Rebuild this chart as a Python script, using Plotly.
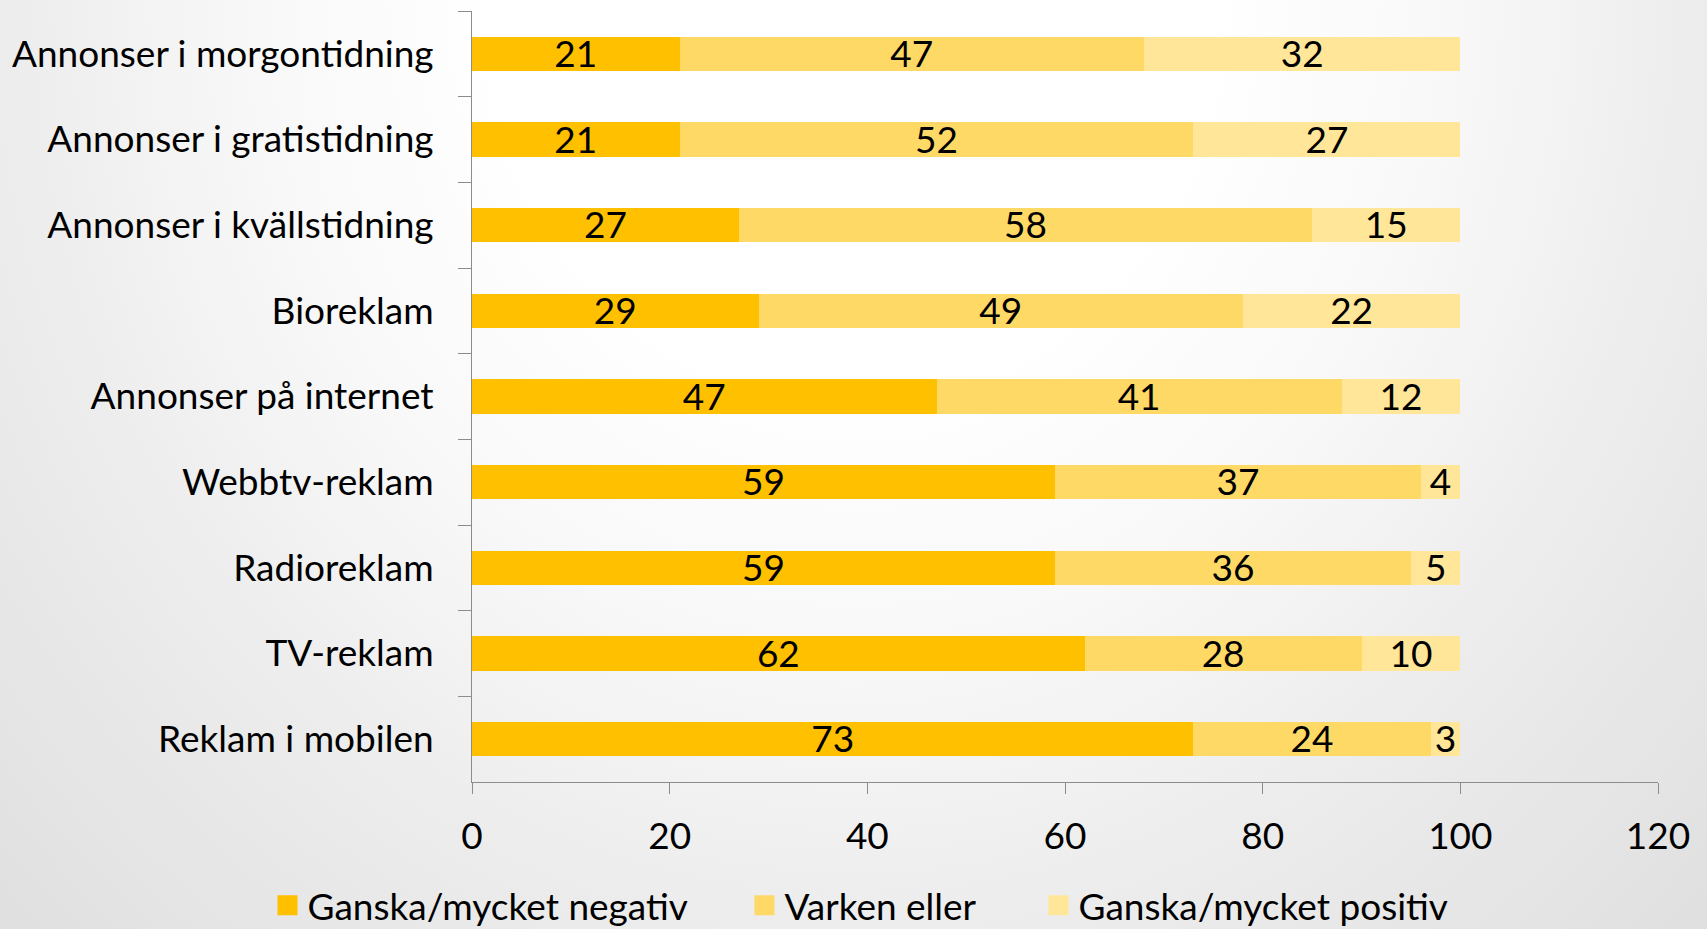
import plotly.graph_objects as go

categories = ["Annonser i morgontidning", "Annonser i gratistidning", "Annonser i kvällstidning",
              "Bioreklam", "Annonser på internet", "Webbtv-reklam", "Radioreklam",
              "TV-reklam", "Reklam i mobilen"]
negativ = [21, 21, 27, 29, 47, 59, 59, 62, 73]
varken = [47, 52, 58, 49, 41, 37, 36, 28, 24]
positiv = [32, 27, 15, 22, 12, 4, 5, 10, 3]
series_names = ["Ganska/mycket negativ", "Varken eller", "Ganska/mycket positiv"]
colors = ["#FFC000", "#FFD966", "#FFE699"]
x_ticks = [0, 20, 40, 60, 80, 100, 120]

W, H = 1707, 929
FONT = "Lato"
FS = 37

fig = go.Figure()

# background radial gradient (full paper, subplot xy); centre near top middle
fig.add_trace(go.Scatter(
    x=[-0.2, 1.2, 1.2, -0.2, -0.2], y=[-0.4, -0.4, 2.4, 2.4, -0.4], mode="lines", fill="toself",
    line=dict(width=0), hoverinfo="skip", showlegend=False,
    fillgradient=dict(type="radial", colorscale=[[0, "#ffffff"], [0.3, "#ffffff"], [0.5, "#f8f8f8"],
                                                 [0.72, "#ececec"], [1, "#e0e0e0"]]),
    xaxis="x", yaxis="y"))

all_series = [negativ, varken, positiv]
for name, vals, col in zip(series_names, all_series, colors):
    fig.add_trace(go.Bar(
        y=categories, x=vals, name=name, orientation="h", marker=dict(color=col, line=dict(width=0)),
        xaxis="x2", yaxis="y2", hoverinfo="skip", textposition="none", showlegend=False))

# data labels centered in each segment (on a hidden index axis aligned with the category axis)
idx = list(range(len(categories)))
base = [0] * len(categories)
for vals in all_series:
    mids = [b + v / 2 for b, v in zip(base, vals)]
    fig.add_trace(go.Scatter(
        x=mids, y=idx, mode="text", text=[str(v) for v in vals],
        textposition="middle center", textfont=dict(family=FONT, size=FS, color="#000000"),
        xaxis="x2", yaxis="y3", hoverinfo="skip", showlegend=False))
    base = [b + v for b, v in zip(base, vals)]

# legend entries (square swatches), one legend each
legend_ids = ["legend", "legend2", "legend3"]
for name, col, lid in zip(series_names, colors, legend_ids):
    fig.add_trace(go.Scatter(
        x=[None], y=[None], mode="markers", name=name,
        marker=dict(symbol="square", size=16, color=col, line=dict(color=col, width=4)),
        xaxis="x2", yaxis="y2", legend=lid, showlegend=True, hoverinfo="skip"))

x0, x1 = 472 / W, 1658 / W
y0, y1 = 1 - 782 / H, 1 - 11 / H
dy = 4 / H

leg_common = dict(orientation="h", y=0.025, yanchor="middle", xanchor="left",
                  font=dict(size=FS, family=FONT, color="#000000"), bgcolor="rgba(0,0,0,0)")
leg_x = [267.5 / W, 744.5 / W, 1038.5 / W]

fig.update_layout(
    width=W, height=H, margin=dict(l=0, r=0, t=0, b=0, autoexpand=False),
    paper_bgcolor="#ebebeb", plot_bgcolor="rgba(0,0,0,0)",
    barmode="stack", bargap=0.6,
    font=dict(family=FONT, size=FS, color="#000000"),
    xaxis=dict(domain=[0, 1], range=[0, 1], visible=False, fixedrange=True),
    yaxis=dict(domain=[0, 1], range=[0, 1], visible=False, fixedrange=True),
    xaxis2=dict(domain=[x0, x1], anchor="y2", range=[0, 120], tickvals=x_ticks,
                showgrid=False, zeroline=False, showline=True, linecolor="#8c8c8c", linewidth=1,
                ticks="outside", ticklen=11, tickcolor="#8c8c8c", tickfont=dict(size=FS, family=FONT),
                ticklabelstandoff=11),
    yaxis2=dict(domain=[y0, y1], anchor="x2", autorange="reversed", type="category",
                showgrid=False, zeroline=False, showline=True, linecolor="#8c8c8c", linewidth=1,
                ticks="outside", ticklen=13, tickcolor="#8c8c8c", tickson="boundaries",
                tickfont=dict(size=FS, family=FONT), ticklabelstandoff=30),
    yaxis3=dict(domain=[y0 - dy, y1 - dy], anchor="x2", range=[len(categories) - 0.5, -0.5],
                visible=False, fixedrange=True),
    legend=dict(x=leg_x[0], **leg_common),
    legend2=dict(x=leg_x[1], **leg_common),
    legend3=dict(x=leg_x[2], **leg_common),
    showlegend=True,
)

fig.write_html("out.html", config={"displayModeBar": False},
               post_script="document.body.style.margin='0';document.body.style.overflow='hidden';")
